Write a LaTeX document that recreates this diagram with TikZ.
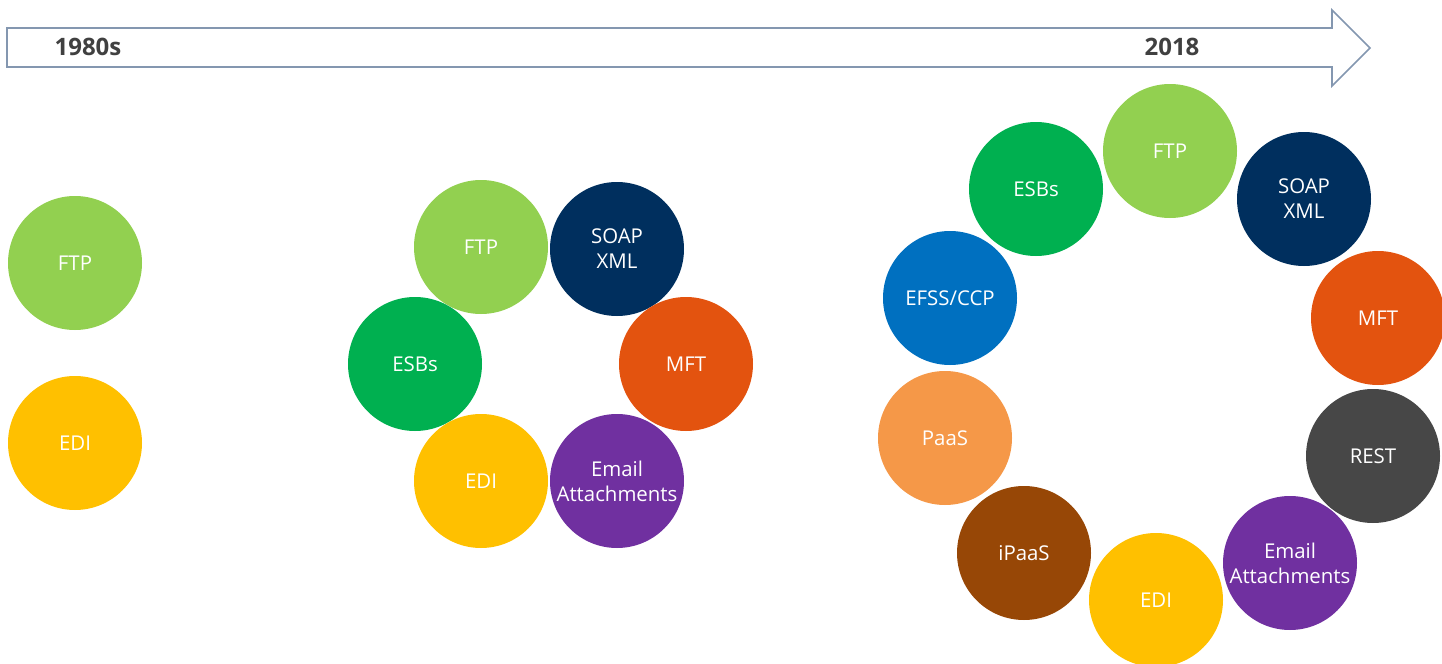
\documentclass[tikz,border=0pt]{standalone}
\usepackage{fontspec}
\setmainfont{Open Sans}
\definecolor{cLgreen}{HTML}{92D050}
\definecolor{cNavy}{HTML}{002F5E}
\definecolor{cRed}{HTML}{E3530F}
\definecolor{cGreen}{HTML}{00B050}
\definecolor{cYellow}{HTML}{FFC000}
\definecolor{cPurple}{HTML}{7030A0}
\definecolor{cBlue}{HTML}{0070C0}
\definecolor{cLorange}{HTML}{F59848}
\definecolor{cBrown}{HTML}{974706}
\definecolor{cGray}{HTML}{474747}
\definecolor{cArrow}{HTML}{8497B0}
\definecolor{cLabel}{HTML}{404040}
\begin{document}
\begin{tikzpicture}[x=0.5pt,y=-0.5pt,
  bub/.style={circle,minimum size=67pt,inner sep=0pt,text=white,font=\fontsize{10.2}{12.6}\selectfont,align=center},
  yearlbl/.style={text=cLabel,font=\bfseries\fontsize{12}{14}\selectfont,inner sep=0pt}]
\useasboundingbox (0,0) rectangle (1442,664);
\clip (0,0) rectangle (1442,664);
% timeline arrow
\draw[cArrow,fill=white,line width=0.8pt,line join=miter]
  (7,28) -- (1332,28) -- (1332,10) -- (1370,48) -- (1332,86) -- (1332,67) -- (7,67) -- cycle;
\node[yearlbl] (y1980) at (88,47) {1980s};
\node[yearlbl] (y2018) at (1172,47) {2018};
% left group
\node[bub,fill=cLgreen] (aftp) at (75,263) {FTP};
\node[bub,fill=cYellow] (aedi) at (75,443) {EDI};
% middle group
\node[bub,fill=cLgreen] (bftp) at (481,247) {FTP};
\node[bub,fill=cNavy] (bsoap) at (617,249) {SOAP\\XML};
\node[bub,fill=cGreen] (besb) at (415,364) {ESBs};
\node[bub,fill=cRed] (bmft) at (686,364) {MFT};
\node[bub,fill=cYellow] (bedi) at (481,481) {EDI};
\node[bub,fill=cPurple] (bmail) at (617,481) {Email\\Attachments};
% right group
\node[bub,fill=cLgreen] (cftp) at (1170,151) {FTP};
\node[bub,fill=cGreen] (cesb) at (1036,189) {ESBs};
\node[bub,fill=cNavy] (csoap) at (1304,199) {SOAP\\XML};
\node[bub,fill=cBlue] (cefss) at (950,298) {EFSS/CCP};
\node[bub,fill=cRed] (cmft) at (1378,318) {MFT};
\node[bub,fill=cLorange] (cpaas) at (945,438) {PaaS};
\node[bub,fill=cGray] (crest) at (1373,456) {REST};
\node[bub,fill=cBrown] (cipaas) at (1024,553) {iPaaS};
\node[bub,fill=cPurple] (cmail) at (1290,563) {Email\\Attachments};
\node[bub,fill=cYellow] (cedi) at (1156,600) {EDI};
\end{tikzpicture}
\end{document}
